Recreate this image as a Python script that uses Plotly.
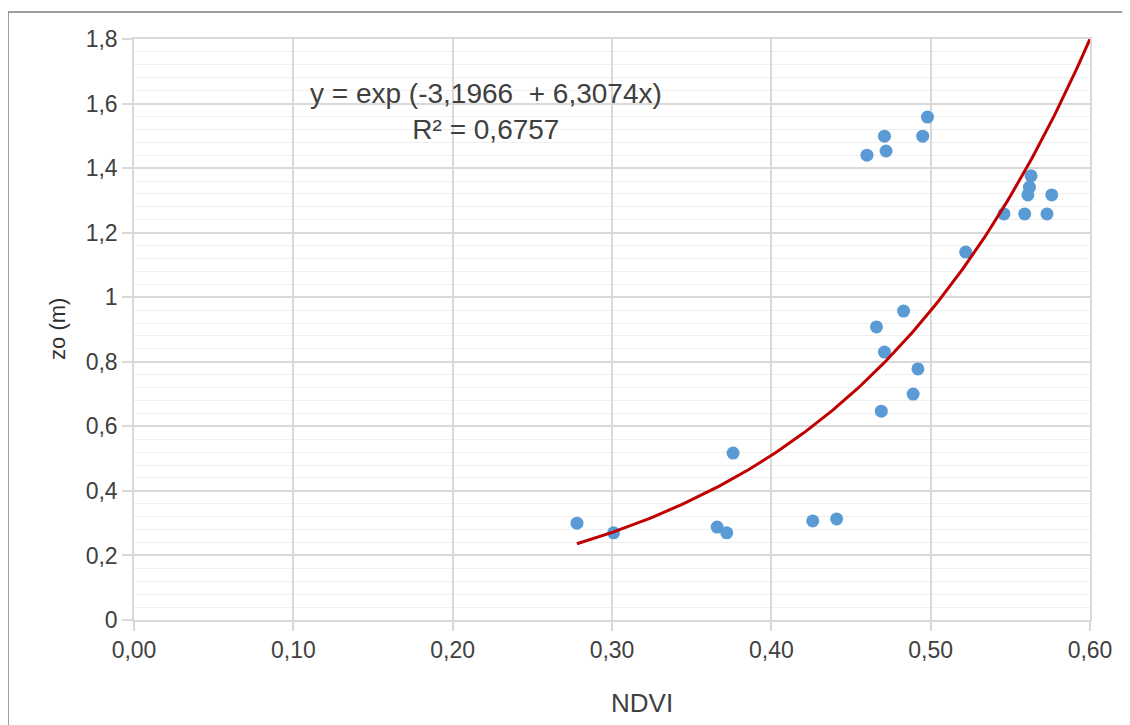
import numpy as np
import plotly.graph_objects as go

# Data
ndvi = [0.278, 0.301, 0.366, 0.372, 0.376, 0.426, 0.441, 0.460, 0.471, 0.472,
        0.495, 0.498, 0.466, 0.483, 0.471, 0.492, 0.489, 0.469, 0.522, 0.546,
        0.559, 0.573, 0.563, 0.562, 0.561, 0.576, 0.601]
zo = [0.300, 0.270, 0.288, 0.270, 0.517, 0.307, 0.313, 1.440, 1.499, 1.453,
      1.499, 1.558, 0.908, 0.957, 0.830, 0.778, 0.700, 0.647, 1.140, 1.258,
      1.258, 1.258, 1.376, 1.341, 1.317, 1.317, 1.376]

# Exponential trendline shown on the chart: y = exp(a + b x)
trend_a = -3.1966
trend_b = 6.3074
trend_r2 = "0,6757"
trend_x_start = 0.278
trend_x_end = 0.600

x_tick_vals = [0.0, 0.1, 0.2, 0.3, 0.4, 0.5, 0.6]
x_tick_text = ["0,00", "0,10", "0,20", "0,30", "0,40", "0,50", "0,60"]
y_tick_vals = [0, 0.2, 0.4, 0.6, 0.8, 1.0, 1.2, 1.4, 1.6, 1.8]
y_tick_text = ["0", "0,2", "0,4", "0,6", "0,8", "1", "1,2", "1,4", "1,6", "1,8"]

tx = np.linspace(trend_x_start, trend_x_end, 200)
ty = np.exp(trend_a + trend_b * tx)

FONT = "Liberation Sans, Arial, sans-serif"
TXT = "#404040"
GRID = "#d9d9d9"
MINOR = "#efefef"

fig = go.Figure()
fig.add_trace(go.Scatter(
    x=ndvi, y=zo, mode="markers",
    marker=dict(color="#5B9BD5", size=13, line=dict(width=0)),
    cliponaxis=False, showlegend=False))
fig.add_trace(go.Scatter(
    x=tx, y=ty, mode="lines",
    line=dict(color="#C00000", width=3),
    cliponaxis=False, showlegend=False))

fig.update_layout(
    width=1122, height=717,
    margin=dict(l=126, r=40, t=31, b=105),
    paper_bgcolor="white", plot_bgcolor="white",
    font=dict(family=FONT, color=TXT),
    separators=",.",
    showlegend=False,
)
fig.update_xaxes(
    range=[0, 0.6], tickvals=x_tick_vals, ticktext=x_tick_text,
    showgrid=True, gridcolor=GRID, gridwidth=1.5,
    zeroline=False, showline=True, linecolor=GRID, linewidth=1.5, mirror=True,
    ticks="outside", ticklen=9, tickcolor=GRID, tickwidth=1.5,
    tickfont=dict(size=23, color=TXT, family=FONT),
)
fig.update_yaxes(
    range=[0, 1.8], tickvals=y_tick_vals, ticktext=y_tick_text,
    showgrid=True, gridcolor=GRID, gridwidth=1.5,
    minor=dict(dtick=0.04, showgrid=True, gridcolor=MINOR, gridwidth=1.2, ticks=""),
    zeroline=False, showline=True, linecolor=GRID, linewidth=1.5, mirror=True,
    ticks="outside", ticklen=10, tickcolor=GRID, tickwidth=1.5,
    tickfont=dict(size=23, color=TXT, family=FONT),
)

fig.add_annotation(
    x=0.221, y=1.575, xref="x", yref="y", showarrow=False,
    text=f"y = exp ({str(trend_a).replace('.', ',')}  + {str(trend_b).replace('.', ',')}x)<br>R² = {trend_r2}",
    font=dict(size=28, color=TXT, family=FONT), align="center",
    xanchor="center", yanchor="middle")

fig.add_annotation(
    x=0.531, y=-0.143, xref="paper", yref="paper", showarrow=False,
    text="NDVI", font=dict(size=26, color=TXT, family=FONT),
    xanchor="center", yanchor="middle")
fig.add_annotation(
    x=-0.0795, y=0.501, xref="paper", yref="paper", showarrow=False,
    text="zo (m)", textangle=-90, font=dict(size=22, color="#303030", family=FONT),
    xanchor="center", yanchor="middle")

# outer chart border (top and left edges visible in the reference)
fig.add_shape(type="rect", xref="paper", yref="paper",
              x0=-0.1318, y0=-0.19, x1=1.05, y1=1.0465,
              line=dict(color="#7f7f7f", width=1.5), layer="below")

fig.write_html("out.html")
